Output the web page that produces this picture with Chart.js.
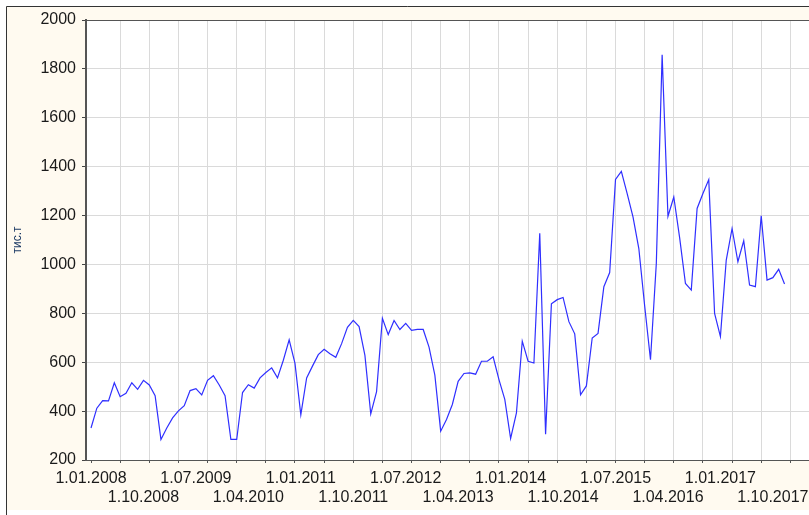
<!DOCTYPE html>
<html>
<head>
<meta charset="utf-8">
<script src="https://cdn.jsdelivr.net/npm/chart.js@4.4.1/dist/chart.umd.min.js"></script>
<style>
  html, body { margin: 0; padding: 0; background: #fff; }
  #chart_1 { width: 809px; height: 515px; position: relative; }
</style>
</head>
<body>
<div id="chart_1"><canvas id="chartf1"></canvas></div>
<script>
//Monthly values, thousand tonnes (Jan..Dec of each year)
let v2008 = [331, 412, 443, 442, 516, 459, 473, 516, 489, 526, 507, 463];
let v2009 = [284, 331, 372, 401, 422, 484, 492, 466, 526, 545, 507, 463];
let v2010 = [284, 284, 476, 508, 494, 536, 558, 577, 536, 608, 692, 595];
let v2011 = [385, 536, 584, 631, 653, 635, 620, 676, 743, 771, 746, 628];
let v2012 = [389, 480, 780, 713, 771, 734, 759, 730, 734, 734, 662, 547];
let v2013 = [318, 366, 427, 522, 554, 556, 551, 604, 604, 622, 529, 448];
let v2014 = [288, 393, 686, 604, 597, 1128, 305, 839, 856, 865, 766, 716];
let v2015 = [467, 503, 699, 718, 909, 967, 1348, 1381, 1290, 1195, 1065, 831];
let v2016 = [610, 1004, 1858, 1197, 1276, 1110, 922, 895, 1229, 1290, 1347, 800];
let v2017 = [705, 1018, 1147, 1011, 1097, 916, 909, 1199, 936, 946, 980, 920];

//Tick labels of the time axis
let x_tick_labels = ['1.01.2008', '1.10.2008', '1.07.2009', '1.04.2010', '1.01.2011',
    '1.10.2011', '1.07.2012', '1.04.2013', '1.01.2014', '1.10.2014', '1.07.2015',
    '1.04.2016', '1.01.2017', '1.10.2017'];

//Value axis
let y_min = 200;
let y_max = 2000;
let y_step = 200;
let y_title = 'тис.т';

let all_values = [].concat(v2008, v2009, v2010, v2011, v2012, v2013, v2014, v2015, v2016, v2017);
let line_points = all_values.map((v, i) => ({ x: i, y: v }));

//'1.MM.YYYY' -> month number counted from January 2008
const month_of = label => {
    let parts = label.split('.');
    return (Number(parts[2]) - 2008) * 12 + Number(parts[1]) - 1;
};
let label_months = x_tick_labels.map(month_of);

const axis_font = { family: "'Liberation Sans', Arial, sans-serif", size: 16 };
const transparent = 'rgba(0,0,0,0)';

const frame_plugin = {
    id: 'frame',
    beforeDraw: chart => {
        let ctx = chart.ctx;
        let area = chart.chartArea;
        ctx.save();
        ctx.fillStyle = '#ffffff';
        ctx.fillRect(0, 0, chart.width, chart.height);
        ctx.fillStyle = '#fffaf0';
        ctx.fillRect(6, 6, chart.width - 6, 504);
        ctx.fillStyle = '#ffffff';
        ctx.fillRect(area.left, area.top, area.right - area.left, area.bottom - area.top);
        ctx.strokeStyle = '#333333';
        ctx.lineWidth = 1;
        ctx.beginPath();
        ctx.moveTo(6.5, chart.height);
        ctx.lineTo(6.5, 6.5);
        ctx.lineTo(chart.width, 6.5);
        ctx.stroke();
        ctx.restore();
    }
};

let chart = new Chart(document.getElementById('chartf1'), {
    type: 'line',
    data: {
        datasets: [{
            data: line_points,
            borderColor: '#2f2fff',
            borderWidth: 1.2,
            pointRadius: 0,
            tension: 0,
            fill: false
        }]
    },
    options: {
        responsive: true,
        maintainAspectRatio: false,
        animation: false,
        layout: { padding: { top: 20, left: 0, right: 0, bottom: 0 } },
        plugins: { legend: { display: false }, tooltip: { enabled: false } },
        scales: {
            x: {
                type: 'linear',
                min: -0.86,
                max: 123.2,
                afterBuildTicks: scale => {
                    let vals = new Set(label_months);
                    for (let m = 0; m <= 120; m += 5) vals.add(m);
                    scale.ticks = [...vals].sort((a, b) => a - b).map(v => ({ value: v }));
                },
                afterFit: scale => { scale.height = 55; },
                ticks: {
                    autoSkip: false,
                    maxRotation: 0,
                    padding: 6,
                    color: '#1a1a1a',
                    font: axis_font,
                    callback: value => {
                        let k = label_months.indexOf(value);
                        if (k < 0) return '';
                        return k % 2 ? ['', x_tick_labels[k]] : [x_tick_labels[k], ''];
                    }
                },
                grid: {
                    color: c => (c.tick && c.tick.value % 5 === 0 && c.tick.value !== 0) ? '#dadada' : transparent,
                    tickColor: c => (c.tick && c.tick.value % 5 === 0) ? '#555555' : transparent,
                    tickLength: 3
                },
                border: { color: '#555555', width: 1 }
            },
            y: {
                min: y_min,
                max: y_max,
                afterFit: scale => { scale.width = 86; },
                ticks: {
                    stepSize: y_step,
                    padding: 6,
                    color: '#1a1a1a',
                    font: axis_font,
                    callback: value => String(value)
                },
                grid: {
                    color: c => (c.tick && c.tick.value === y_max) ? '#555555' : '#dadada',
                    tickColor: '#444444',
                    tickLength: 4
                },
                border: { color: '#555555', width: 2 },
                title: {
                    display: true,
                    text: y_title,
                    color: '#1c3a64',
                    font: { family: "'Liberation Sans', Arial, sans-serif", size: 12 },
                    padding: { top: 10, bottom: 0 }
                }
            }
        }
    },
    plugins: [frame_plugin]
});
</script>
</body>
</html>
